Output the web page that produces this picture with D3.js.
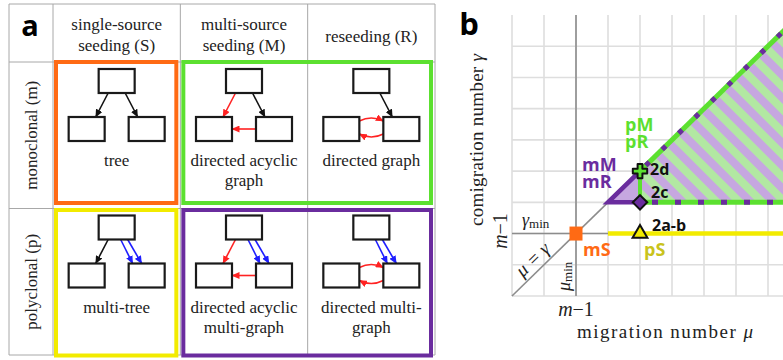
<!DOCTYPE html>
<html><head><meta charset="utf-8">
<script src="https://cdn.jsdelivr.net/npm/d3@7"></script>
<style>body{margin:0;background:#fff} svg{display:block}</style>
</head><body><svg id="c" width="783" height="360"></svg>
<script>
// ---------- panel a data ----------
const columns = [["single-source","seeding (S)"],["multi-source","seeding (M)"],["reseeding (R)"]];
const rows = ["monoclonal (m)","polyclonal (p)"];
const cellLabels = [
  [["tree"],["directed acyclic","graph"],["directed graph"]],
  [["multi-tree"],["directed acyclic","multi-graph"],["directed multi-","graph"]]
];
const cellEdges = [
  [ [ {f:"T",t:"L",c:"black"},{f:"T",t:"R",c:"black"} ],
    [ {f:"T",t:"L",c:"red"},{f:"T",t:"R",c:"black"},{f:"R",t:"L",c:"red"} ],
    [ {f:"T",t:"R",c:"black"},{f:"L",t:"R",c:"red",curve:"up"},{f:"R",t:"L",c:"red",curve:"down"} ] ],
  [ [ {f:"T",t:"L",c:"black"},{f:"T",t:"R",c:"blue",multi:2} ],
    [ {f:"T",t:"L",c:"red"},{f:"T",t:"R",c:"blue",multi:2},{f:"R",t:"L",c:"red"} ],
    [ {f:"T",t:"R",c:"blue",multi:2},{f:"L",t:"R",c:"red",curve:"up"},{f:"R",t:"L",c:"red",curve:"down"} ] ]
];
const groups = [
  {r:0,c0:0,c1:0,color:"orange"},{r:0,c0:1,c1:2,color:"green"},
  {r:1,c0:0,c1:0,color:"yellow"},{r:1,c0:1,c1:2,color:"purple"}
];
// ---------- panel b data ----------
const muGrid = d3.range(0,9);
const gammaGrid = d3.range(0,9);
const muMin = 2, gammaMin = 2;
const points = [
  {label:"", mu:2, g:2, shape:"square"},
  {label:"2a-b", mu:4, g:2, shape:"triangle"},
  {label:"2c", mu:4, g:3, shape:"diamond"},
  {label:"2d", mu:4, g:4, shape:"cross"}
];
const triMR = [[3,3],[4,3],[4,4]];
const regionPMR = [[4,4],[4,3],[8.7,3],[8.7,8.7]];
const raySmin = [[3,2],[8.7,2]];

const COL = {orange:"#ff6a14", green:"#5ce030", yellow:"#f2eb00", purple:"#6a2c9e",
  black:"#111", red:"#ff2222", blue:"#1e1eff", grid:"#dedede", dark:"#8c8c8c",
  table:"#a8a8a8", pS:"#c9c31c", lpurple:"#c6a7e0", lgreen:"#b2e8a2"};
const SERIF = "'Liberation Serif','DejaVu Serif',serif";
const SANS = "'Open Sans','Liberation Sans',sans-serif";

const svg = d3.select("#c");
const defs = svg.append("defs");
["black","red","blue"].forEach(k=>{
  defs.append("marker").attr("id","ar-"+k).attr("markerUnits","userSpaceOnUse")
    .attr("markerWidth",8).attr("markerHeight",7).attr("refX",7.5).attr("refY",3.5)
    .attr("orient","auto").append("path").attr("d","M0,0L8,3.5L0,7z").attr("fill",COL[k]);
});
const pat = defs.append("pattern").attr("id","hatch").attr("patternUnits","userSpaceOnUse")
  .attr("width",16).attr("height",16).attr("patternTransform","rotate(-45)");
pat.append("rect").attr("width",8).attr("height",16).attr("fill",COL.lpurple);
pat.append("rect").attr("x",8).attr("width",8).attr("height",16).attr("fill",COL.lgreen);

// ================= PANEL A =================
const colX = d3.scaleBand().domain(d3.range(3)).range([53,435]);
const rowY = d3.scaleBand().domain(d3.range(2)).range([62,355]);
const bw = colX.bandwidth(), bh = rowY.bandwidth();
const A = svg.append("g");
const vx = [9, ...d3.range(3).map(i=>colX(i)), 435];
const hy = [4, 62, rowY(1), 355];
A.selectAll(".vl").data(vx).join("line").attr("x1",d=>d).attr("x2",d=>d).attr("y1",4).attr("y2",355)
  .attr("stroke",COL.table).attr("stroke-width",1);
A.selectAll(".hl").data(hy).join("line").attr("y1",d=>d).attr("y2",d=>d).attr("x1",9).attr("x2",435)
  .attr("stroke",COL.table).attr("stroke-width",1);

A.append("text").attr("x",30).attr("y",36).attr("text-anchor","middle").attr("font-family",SANS)
  .attr("font-weight",700).attr("font-size",29).text("a");

columns.forEach((lines,i)=>{
  const t = A.append("text").attr("text-anchor","middle").attr("font-family",SERIF).attr("font-size",17).attr("fill","#222");
  const base = lines.length===1 ? 42 : 30;
  lines.forEach((s,j)=>t.append("tspan").attr("x",colX(i)+bw/2).attr("y",base+j*21).text(s));
});
rows.forEach((s,i)=>{
  A.append("text").attr("transform",`translate(37,${rowY(i)+bh/2}) rotate(-90)`).attr("text-anchor","middle")
    .attr("font-family",SERIF).attr("font-size",17).attr("fill","#222").text(s);
});

// group frames
groups.forEach(g=>{
  const x0 = colX(g.c0)+3, x1 = colX(g.c1)+bw-4;
  const y0 = rowY(g.r)+(g.r===0?0:1.5), y1 = g.r===0 ? rowY(g.r)+bh-5.5 : 355.5;
  A.append("rect").attr("x",x0).attr("y",y0).attr("width",x1-x0).attr("height",y1-y0)
    .attr("fill","none").attr("stroke",COL[g.color]).attr("stroke-width",4);
});

// cells
rows.forEach((_,r)=>{
  columns.forEach((_,c)=>{
    const cx = colX(c)+bw/2, ry = rowY(r);
    const W=36, H=24;
    const nodes = {
      T:{cx:cx, y:ry+7},
      L:{cx:cx-30, y:ry+55},
      R:{cx:cx+30, y:ry+55}
    };
    const g = A.append("g");
    cellEdges[r][c].forEach(e=>{
      const col = COL[e.c], mk = `url(#ar-${e.c})`;
      if(e.f==="T"){
        const to = nodes[e.t];
        const dir = e.t==="L" ? -1 : 1;
        const ks = e.multi ? [-1,1] : [0];
        ks.forEach(k=>{
          let x1, x2;
          if(e.multi){ x1 = cx + 7.5 + k*3.5; x2 = to.cx - 9.5 + k*4.5; }
          else { x1 = cx + dir*8.5; x2 = to.cx - dir*9; }
          g.append("line").attr("x1",x1).attr("y1",nodes.T.y+H).attr("x2",x2).attr("y2",to.y)
            .attr("stroke",col).attr("stroke-width",1.6).attr("marker-end",mk);
        });
      } else if(!e.curve){
        const yy = nodes.L.y + 12;
        g.append("line").attr("x1",nodes.R.cx-W/2).attr("y1",yy).attr("x2",nodes.L.cx+W/2).attr("y2",yy)
          .attr("stroke",col).attr("stroke-width",1.6).attr("marker-end",mk);
      } else {
        const xl = nodes.L.cx+W/2, xr = nodes.R.cx-W/2, xm=(xl+xr)/2;
        const p = d3.path();
        if(e.curve==="up"){ p.moveTo(xl, ry+59); p.quadraticCurveTo(xm, ry+53, xr, ry+59); }
        else { p.moveTo(xr, ry+72); p.quadraticCurveTo(xm, ry+78, xl, ry+72); }
        g.append("path").attr("d",p.toString()).attr("fill","none").attr("stroke",col)
          .attr("stroke-width",1.6).attr("marker-end",mk);
      }
    });
    Object.values(nodes).forEach(n=>{
      g.append("rect").attr("x",n.cx-W/2).attr("y",n.y).attr("width",W).attr("height",H)
        .attr("fill","#fff").attr("stroke","#1a1a1a").attr("stroke-width",2.2);
    });
    const t = g.append("text").attr("text-anchor","middle").attr("font-family",SERIF).attr("font-size",17).attr("fill","#222");
    cellLabels[r][c].forEach((s,j)=>t.append("tspan").attr("x",cx).attr("y",ry+104+j*20).text(s));
  });
});

// ================= PANEL B =================
const x = d3.scaleLinear().domain([0,8.5]).range([512,784]);
const y = d3.scaleLinear().domain([0,9]).range([296,15]);
const B = svg.append("g");
B.selectAll(".gv").data(muGrid).join("line").attr("x1",d=>x(d)).attr("x2",d=>x(d)).attr("y1",y(0)).attr("y2",y(9))
  .attr("stroke",COL.grid).attr("stroke-width",1.6);
B.selectAll(".gh").data(gammaGrid).join("line").attr("y1",d=>y(d)).attr("y2",d=>y(d)).attr("x1",x(0)).attr("x2",783)
  .attr("stroke",COL.grid).attr("stroke-width",1.6);
// dark reference lines
B.append("line").attr("x1",x(muMin)).attr("x2",x(muMin)).attr("y1",y(0)).attr("y2",y(9)).attr("stroke",COL.dark).attr("stroke-width",1.6);
B.append("line").attr("x1",x(0)).attr("x2",x(4)).attr("y1",y(gammaMin)).attr("y2",y(gammaMin)).attr("stroke",COL.dark).attr("stroke-width",1.6);
B.append("line").attr("x1",x(0)).attr("y1",y(0)).attr("x2",x(3)).attr("y2",y(3)).attr("stroke",COL.dark).attr("stroke-width",1.6);

const line = d3.line().x(d=>x(d[0])).y(d=>y(d[1]));
// hatched pM/pR region
B.append("path").attr("d",line(regionPMR)+"Z").attr("fill","url(#hatch)");
// mM/mR triangle
B.append("path").attr("d",line(triMR)+"Z").attr("fill",COL.lpurple);
B.append("path").attr("d",line([triMR[1],triMR[0],triMR[2]])).attr("fill","none").attr("stroke",COL.purple)
  .attr("stroke-width",4.5).attr("stroke-linejoin","miter");
// green vertical edge
B.append("path").attr("d",line([[4,3],[4,4]])).attr("stroke",COL.green).attr("stroke-width",4);
// bottom edge gamma = m
B.append("path").attr("d",line([[4,3],[8.7,3]])).attr("stroke",COL.green).attr("stroke-width",5);
B.append("path").attr("d",line([[4,3],[8.7,3]])).attr("stroke",COL.purple).attr("stroke-width",5)
  .attr("stroke-dasharray","6,17").attr("stroke-dashoffset",11);
// diagonal edge
B.append("path").attr("d",line([[4,4],[8.7,8.7]])).attr("stroke",COL.green).attr("stroke-width",5);
B.append("path").attr("d",line([[4,4],[8.7,8.7]])).attr("stroke",COL.purple).attr("stroke-width",5)
  .attr("stroke-dasharray","5,18").attr("stroke-dashoffset",-8);
// pS ray
B.append("path").attr("d",line(raySmin)).attr("stroke",COL.yellow).attr("stroke-width",4.5);

// markers
points.forEach(p=>{
  const px=x(p.mu), py=y(p.g);
  if(p.shape==="square"){
    B.append("rect").attr("x",px-6.5).attr("y",py-7).attr("width",13).attr("height",14).attr("fill",COL.orange);
  } else if(p.shape==="triangle"){
    B.append("path").attr("d",d3.symbol(d3.symbolTriangle,95)()).attr("transform",`translate(${px},${py})`)
      .attr("fill",COL.yellow).attr("stroke","#111").attr("stroke-width",2);
  } else if(p.shape==="diamond"){
    B.append("path").attr("d",d3.symbol(d3.symbolSquare,105)()).attr("transform",`translate(${px},${py}) rotate(45)`)
      .attr("fill",COL.purple).attr("stroke","#111").attr("stroke-width",2);
  } else {
    B.append("path").attr("d",d3.symbol(d3.symbolCross,115)()).attr("transform",`translate(${px},${py})`)
      .attr("fill",COL.green).attr("stroke","#111").attr("stroke-width",2).attr("stroke-linejoin","round");
  }
});

// labels
const lab = (lines,xx,yy,color,size)=>{
  const t = B.append("text").attr("fill",color).attr("font-family",SANS).attr("font-weight",700).attr("font-size",size);
  lines.forEach((s,j)=>t.append("tspan").attr("x",xx).attr("y",yy+j*17).text(s));
};
lab(["2a-b"], x(4)+12, 231, "#111", 16);
lab(["2c"], x(4)+11, 198, "#111", 16);
lab(["2d"], x(4)+10, 175, "#111", 16);
lab(["mS"], 583, 256, COL.orange, 18);
lab(["pS"], 644, 256, COL.pS, 18);
lab(["mM","mR"], 582, 171, COL.purple, 18);
lab(["pM","pR"], 625, 131, COL.green, 18);

B.append("text").attr("x",469).attr("y",35).attr("text-anchor","middle").attr("font-family",SANS)
  .attr("font-weight",700).attr("font-size",31).text("b");

// axis texts
const st = sel=>sel.attr("font-family",SERIF).attr("fill","#222");
st(B.append("text")).attr("transform","translate(483,140) rotate(-90)").attr("text-anchor","middle")
  .attr("font-size",19).attr("textLength",172).attr("lengthAdjust","spacing")
  .call(t=>{t.append("tspan").text("comigration number "); t.append("tspan").attr("font-style","italic").text("γ");});
st(B.append("text")).attr("x",665).attr("y",338).attr("text-anchor","middle")
  .attr("font-size",19).attr("textLength",176).attr("lengthAdjust","spacing")
  .call(t=>{t.append("tspan").text("migration number "); t.append("tspan").attr("font-style","italic").text("μ");});
st(B.append("text")).attr("x",576).attr("y",316).attr("text-anchor","middle").attr("font-size",20)
  .call(t=>{t.append("tspan").attr("font-style","italic").text("m"); t.append("tspan").text("−1");});
st(B.append("text")).attr("transform","translate(507,231) rotate(-90)").attr("text-anchor","middle").attr("font-size",20)
  .call(t=>{t.append("tspan").attr("font-style","italic").text("m"); t.append("tspan").text("−1");});
st(B.append("text")).attr("x",522).attr("y",226).attr("font-size",18)
  .call(t=>{t.append("tspan").attr("font-style","italic").text("γ"); t.append("tspan").attr("font-size",13).attr("dy",2).text("min");});
st(B.append("text")).attr("transform","translate(570,291) rotate(-90)").attr("font-size",18)
  .call(t=>{t.append("tspan").attr("font-style","italic").text("μ"); t.append("tspan").attr("font-size",13).attr("dy",2).text("min");});
st(B.append("text")).attr("transform",`translate(537,264) rotate(-44)`).attr("text-anchor","middle").attr("font-size",19)
  .attr("font-style","italic").text("μ = γ");
</script></body></html>
